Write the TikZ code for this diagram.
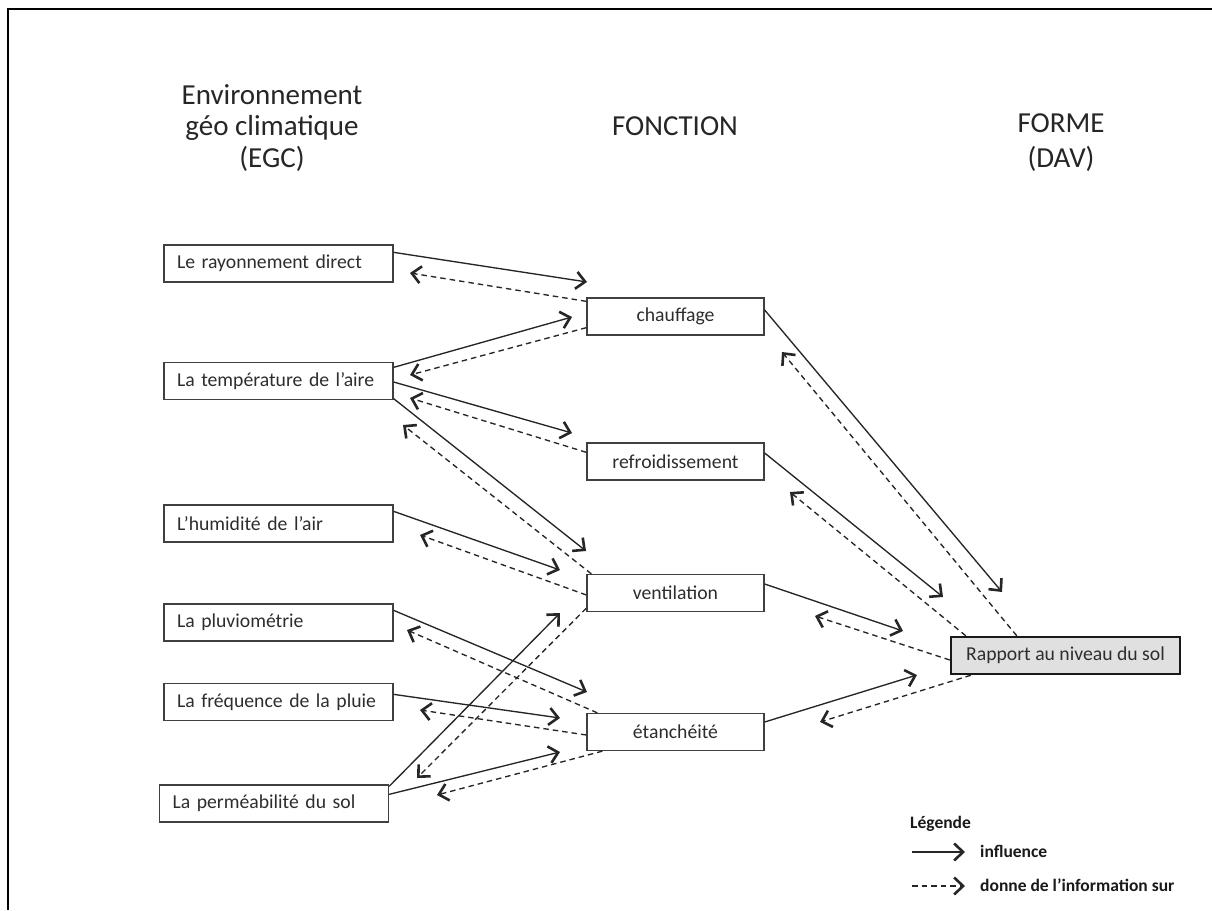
\documentclass[tikz,border=0pt]{standalone}
\usepackage{fontspec}
\setmainfont{Carlito}
\usetikzlibrary{arrows.meta,calc}
\definecolor{boxgray}{RGB}{224,224,224}
\definecolor{txt}{RGB}{45,45,45}
\begin{document}
\begin{tikzpicture}[x=1pt,y=-1pt,
  lbox/.style={draw=black!75, line width=1.3pt, minimum width=229pt, minimum height=37pt,
    text width=203pt, inner xsep=13pt, inner ysep=0pt, align=left,
    font=\fontsize{19.7}{23}\selectfont, text=txt},
  mbox/.style={draw=black!75, line width=1.3pt, minimum width=177pt, minimum height=37pt,
    inner sep=0pt, font=\fontsize{19.7}{23}\selectfont, text=txt},
  rbox/.style={draw=black!90, line width=2.5pt, fill=boxgray, minimum width=229pt,
    minimum height=37pt, inner sep=0pt, font=\fontsize{19.7}{23}\selectfont, text=txt},
  hdr/.style={font=\fontsize{29}{34}\selectfont, text=black!85, anchor=base, inner sep=0pt},
  leg/.style={font=\bfseries\fontsize{17.5}{20}\selectfont, text=black!90, anchor=base west, inner sep=0pt},
  infl/.style={line width=1.35pt, draw=black!85, -{Straight Barb[length=9pt,width=17pt,line width=2.6pt]}},
  info/.style={infl, dash pattern=on 5.5pt off 4pt},
  frame/.style={line width=2.5pt, draw=black}
]
\useasboundingbox (0,0) rectangle (1212,910);
% frame
\coordinate (fr1) at (1212,9);
\coordinate (fr2) at (8,9);
\coordinate (fr3) at (8,910);
\draw[frame] (fr1) -- (fr2) -- (fr3);

% headers
\node[hdr] (h1) at (272,104) {Environnement};
\node[hdr] (h2) at (272,135) {géo climatique};
\node[hdr] (h3) at (272,167) {(EGC)};
\node[hdr] (h4) at (675,135) {FONCTION};
\node[hdr] (h5) at (1061,132) {FORME};
\node[hdr] (h6) at (1061,167) {(DAV)};

% left boxes
\node[lbox] (rd) at (278.5,263.5) {Le rayonnement direct};
\node[lbox] (ta) at (278.5,381) {La température de l’aire};
\node[lbox] (ha) at (278.5,523.5) {L’humidité de l’air};
\node[lbox] (pl) at (278.5,622.5) {La pluviométrie};
\node[lbox] (fp) at (278.5,702) {La fréquence de la pluie};
\node[lbox] (ps) at (274,803.5) {La perméabilité du sol};

% middle boxes
\node[mbox] (ch) at (675.5,316.5) {chauffage};
\node[mbox] (re) at (675.5,461.5) {refroidissement};
\node[mbox] (ve) at (675.5,593) {ventilation};
\node[mbox] (et) at (675.5,732) {étanchéité};

% right box
\node[rbox] (rs) at (1065.5,655.5) {Rapport au niveau du sol};

% free ends
\coordinate (e1s) at (587,282);
\coordinate (e1d) at (410,273);
\coordinate (e2s) at (572,317);
\coordinate (e2d) at (410,375);
\coordinate (e3s) at (572,433);
\coordinate (e3d) at (410,398);
\coordinate (e4s) at (586,551);
\coordinate (e4d) at (403,425);
\coordinate (e5s) at (560,570);
\coordinate (e5d) at (420,535);
\coordinate (e6s) at (587,692);
\coordinate (e6d) at (407,630);
\coordinate (e7s) at (560,718);
\coordinate (e7d) at (420,710);
\coordinate (e8s) at (560,613);
\coordinate (e8d) at (417,778);
\coordinate (e9s) at (560,752);
\coordinate (e9d) at (437,795);
\coordinate (e10s) at (1002,592);
\coordinate (e10d) at (782,352);
\coordinate (e11s) at (943,597);
\coordinate (e11d) at (790,492);
\coordinate (e12s) at (903,631);
\coordinate (e12d) at (815,616);
\coordinate (e13s) at (917,675);
\coordinate (e13d) at (820,722);

% left -> middle
\draw[infl] ($(rd.north east)+(0,8)$) -- (e1s);
\draw[info] ($(ch.north west)+(0,4)$) -- (e1d);
\draw[infl] ($(ta.north east)+(0,5.5)$) -- (e2s);
\draw[info] ($(ch.south west)+(0,-8)$) -- (e2d);
\draw[infl] ($(ta.east)+(0,1)$) -- (e3s);
\draw[info] ($(re.north west)+(0,10)$) -- (e3d);
\draw[infl] ($(ta.south east)+(0,-1.5)$) -- (e4s);
\draw[info] ($(ve.north west)+(5,0)$) -- (e4d);
\draw[infl] ($(ha.north east)+(0,7)$) -- (e5s);
\draw[info] ($(ve.west)+(0,2)$) -- (e5d);
\draw[infl] ($(pl.north east)+(0,7)$) -- (e6s);
\draw[info] ($(et.north west)+(11,0)$) -- (e6d);
\draw[infl] ($(fp.north east)+(0,11.5)$) -- (e7s);
\draw[info] ($(et.west)+(0,3)$) -- (e7d);
\draw[infl] ($(ps.north east)+(0,2)$) -- (e8s);
\draw[info] ($(ve.south west)+(0,-4)$) -- (e8d);
\draw[infl] ($(ps.north east)+(0,10)$) -- (e9s);
\draw[info] ($(et.south west)+(16,0)$) -- (e9d);

% middle -> right
\draw[infl] ($(ch.east)+(0,-6.5)$) -- (e10s);
\draw[info] ($(rs.north west)+(67,0)$) -- (e10d);
\draw[infl] ($(re.east)+(0,-8.5)$) -- (e11s);
\draw[info] ($(rs.north west)+(16,0)$) -- (e11d);
\draw[infl] ($(ve.east)+(0,-9)$) -- (e12s);
\draw[info] ($(rs.west)+(0,4.5)$) -- (e12d);
\draw[infl] ($(et.east)+(0,-10)$) -- (e13s);
\draw[info] ($(rs.south west)+(21,0)$) -- (e13d);

% legend
\node[leg] (lg) at (910,828) {Légende};
\coordinate (l1a) at (912,852);
\coordinate (l1b) at (965,852);
\coordinate (l2a) at (912,886);
\coordinate (l2b) at (965,886);
\draw[infl] (l1a) -- (l1b);
\draw[info] (l2a) -- (l2b);
\node[leg] (l1t) at (980,857) {influence};
\node[leg] (l2t) at (980,891) {donne de l'information sur};
\end{tikzpicture}
\end{document}
